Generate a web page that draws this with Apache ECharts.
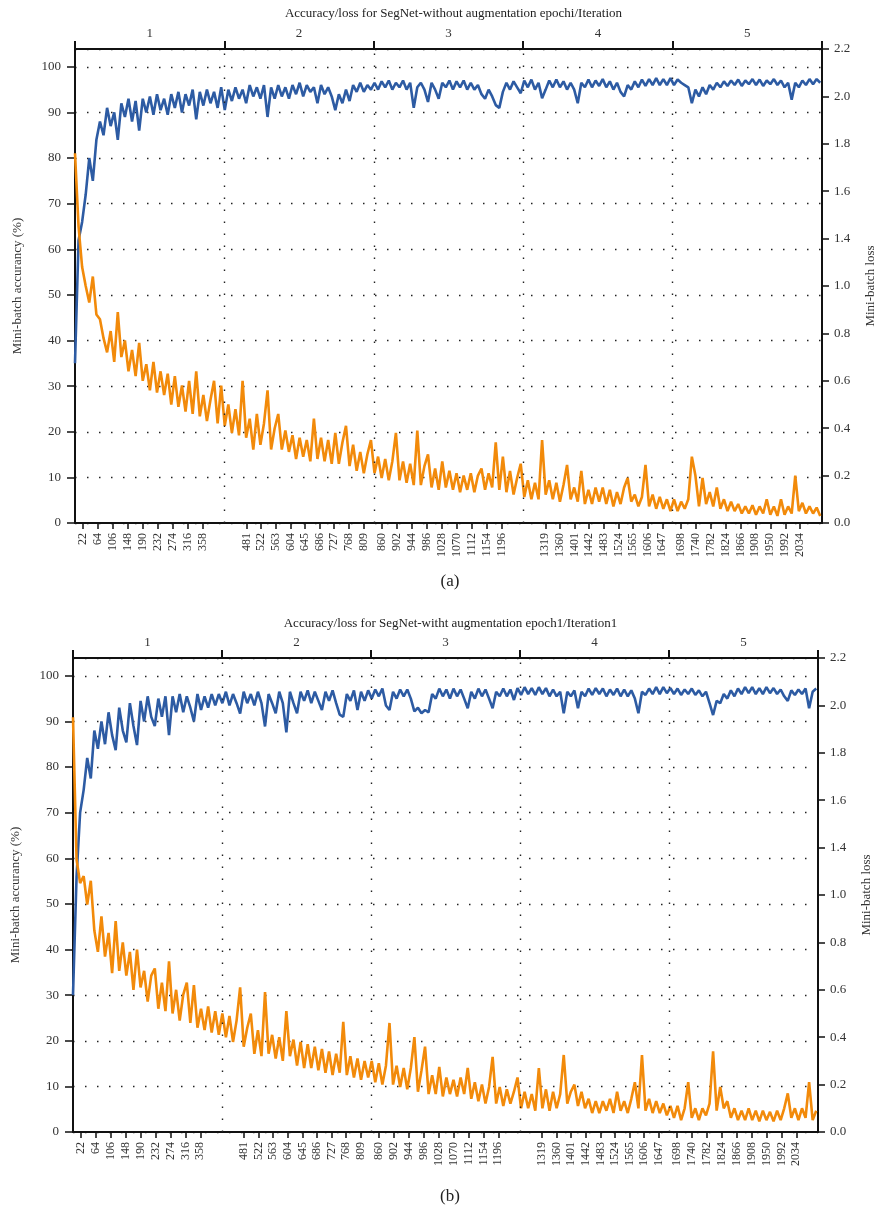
<!DOCTYPE html>
<html>
<head>
<meta charset="utf-8">
<script src="https://cdn.jsdelivr.net/npm/echarts@6/dist/echarts.min.js"></script>
<style>
  html, body { margin: 0; padding: 0; background: #fff; }
  #chart { width: 876px; height: 1211px; }
</style>
</head>
<body>
<div id="chart"></div>
<script>
const iterStep = 10;
const iterTicks = [22, 64, 106, 148, 190, 232, 274, 316, 358, 481, 522, 563, 604, 645, 686, 727, 768, 809,
  860, 902, 944, 986, 1028, 1070, 1112, 1154, 1196, 1319, 1360, 1401, 1442, 1483, 1524, 1565, 1606, 1647,
  1698, 1740, 1782, 1824, 1866, 1908, 1950, 1992, 2034];
const epochEdges = [0, 419, 838, 1257, 1676, 2095];
const epochNames = ['1', '2', '3', '4', '5'];
const lossTickLabels = ['0.0', '0.2', '0.4', '0.6', '0.8', '1.0', '1.4', '1.6', '1.8', '2.0', '2.2'];

// (a) without augmentation
const accA = [
  35, 62, 66, 72, 80, 75, 84, 88, 85, 91,
  87, 90, 84, 92, 89, 93, 88, 92.5, 86, 93,
  90, 93.5, 89.5, 94, 90.5, 93, 89.5, 94, 91, 94.5,
  90, 94, 91.5, 95, 88.5, 94.5, 91.5, 95, 92, 94.5,
  91, 95.5, 90.5, 95, 92.5, 95.5, 93, 95, 92, 96,
  93.5, 95.5, 93, 96, 89, 95.5, 93, 96, 93.5, 95.5,
  93, 96, 94, 96.5, 93.5, 96, 94.5, 95.5, 92, 96,
  94, 95.5, 93.5, 90.5, 94, 92, 95, 92.5, 96, 94.5,
  96.5, 94.5, 96, 95, 96.5, 95, 96.8, 95.5, 97, 95,
  96.5, 95.5, 97, 95, 96.5, 91, 95.5, 96.5, 95, 92.3,
  96.5, 95, 93, 96.5, 95.5, 97, 95, 96.8, 95.5, 97,
  95, 96.5, 95, 96, 94, 93, 95, 93.5, 91.6, 91,
  94.5, 96.5, 95, 96.8, 95.5, 94.2, 97, 95.5, 97.2, 95,
  96.5, 93.1, 95, 97, 95.5, 97.2, 95.5, 96.8, 95, 96.5,
  95, 92, 96.5, 95.5, 97.2, 95.5, 97, 95.8, 97.3, 95.5,
  96.8, 95, 96.5, 94.5, 93.5, 96, 95, 96.8, 95.5, 97.2,
  95.8, 97.3, 96, 97.5, 96, 97.3, 96, 97.5, 96, 97.2,
  96.5, 96, 95.5, 92, 95, 93.5, 95.5, 94, 96, 95,
  96.5, 95.5, 96.8, 95.8, 97, 96, 97.2, 95.8, 97, 96.2,
  97.3, 96, 97.2, 95.8, 97, 96.2, 97.3, 96, 97, 95.5,
  96.5, 92.8, 96.5, 95.5, 97, 96, 97.3, 96.2, 97.3, 96.5
];
const lossA = [
  1.56, 1.25, 1.08, 1.0, 0.93, 1.04, 0.88, 0.86, 0.78, 0.72,
  0.81, 0.68, 0.89, 0.70, 0.77, 0.64, 0.73, 0.62, 0.76, 0.60,
  0.67, 0.56, 0.68, 0.55, 0.64, 0.54, 0.63, 0.50, 0.62, 0.49,
  0.58, 0.47, 0.60, 0.46, 0.64, 0.45, 0.54, 0.43, 0.52, 0.60,
  0.42, 0.58, 0.41, 0.50, 0.38, 0.48, 0.37, 0.60, 0.36, 0.44,
  0.31, 0.46, 0.33, 0.42, 0.56, 0.31, 0.40, 0.46, 0.31, 0.39,
  0.30, 0.37, 0.27, 0.36, 0.28, 0.35, 0.26, 0.44, 0.27, 0.36,
  0.26, 0.35, 0.25, 0.38, 0.25, 0.34, 0.41, 0.24, 0.33, 0.22,
  0.30, 0.21, 0.29, 0.35, 0.21, 0.28, 0.19, 0.27, 0.18, 0.26,
  0.38, 0.18, 0.26, 0.17, 0.25, 0.16, 0.39, 0.16, 0.24, 0.29,
  0.15, 0.23, 0.14, 0.26, 0.15, 0.22, 0.14, 0.21, 0.13, 0.20,
  0.14, 0.21, 0.13, 0.20, 0.23, 0.14, 0.21, 0.15, 0.34, 0.14,
  0.28, 0.13, 0.22, 0.12, 0.19, 0.25, 0.11, 0.18, 0.10, 0.17,
  0.10, 0.35, 0.12, 0.18, 0.10, 0.17, 0.09, 0.16, 0.245, 0.10,
  0.15, 0.09, 0.22, 0.08, 0.14, 0.08, 0.15, 0.09, 0.15, 0.08,
  0.14, 0.07, 0.13, 0.08, 0.15, 0.19, 0.09, 0.12, 0.07, 0.11,
  0.245, 0.07, 0.12, 0.06, 0.11, 0.06, 0.10, 0.05, 0.10, 0.05,
  0.09, 0.06, 0.10, 0.28, 0.20, 0.07, 0.19, 0.08, 0.13, 0.07,
  0.15, 0.06, 0.10, 0.05, 0.09, 0.05, 0.08, 0.04, 0.07, 0.04,
  0.075, 0.035, 0.07, 0.04, 0.10, 0.035, 0.07, 0.03, 0.10, 0.035,
  0.07, 0.04, 0.20, 0.05, 0.085, 0.04, 0.07, 0.04, 0.065, 0.03
];

// (b) with augmentation
const accB = [
  30, 56, 70, 75, 82, 77.5, 88, 84, 90, 85,
  92, 87, 83.7, 93, 88, 85.4, 94, 89, 84.8, 94.5,
  90, 95.5, 91, 89, 95, 91, 95.5, 87, 95.5, 92,
  96, 92, 95.5, 93, 90, 96, 92.5, 95.5, 93, 96,
  93.5, 96, 94, 96.5, 93.5, 96, 94, 91.7, 96.5, 94,
  96, 93.5, 96.5, 94, 88.9, 96, 94, 91.8, 96.5, 94,
  87.6, 96.5, 94, 91.8, 96.5, 94.5, 96.8, 94, 96.5, 94.5,
  92.5, 96.5, 94.5, 96.8, 94, 91.5, 91, 96, 94.5, 96.8,
  92.5, 96.5, 94.5, 96.8, 95, 97, 95.5, 97.2, 93.5, 92.5,
  96.5, 95, 97, 95.5, 97, 95, 92.2, 93, 91.8, 92.5,
  92, 96, 95, 97.2, 95.5, 97, 95, 97.2, 95.5, 97,
  95, 92.9, 96.5, 95, 97.2, 95.5, 97, 95, 92.9, 96.5,
  95.5, 97.2, 95.5, 97, 94.7, 97.3, 95.8, 97.5, 96, 97.3,
  95.8, 97.5, 96, 97.3, 95.5, 97, 95.5, 96.5, 91.8, 96.5,
  95.5, 96.8, 92.9, 96.5, 95.5, 97.2, 95.8, 97.3, 96, 97.2,
  95.5, 97, 95.8, 97.2, 95.5, 97, 95.5, 96.8, 95, 91.8,
  96.5, 95.8, 97.2, 96, 97.5, 96, 97.5, 96.2, 97.3, 96,
  97.2, 95.8, 97, 96, 97.2, 95.8, 96.8, 95.5, 96.5, 94,
  91.4, 94.5, 94, 96, 95, 96.8, 95.5, 97.2, 96, 97.5,
  96.2, 97.5, 96, 97.3, 96, 97.5, 96.2, 97.3, 96, 97,
  95.5, 94.5, 96.8, 95.8, 97, 96, 97.2, 92.9, 96.5, 97.2
];
const lossB = [
  1.75, 1.15, 1.05, 1.08, 0.96, 1.06, 0.85, 0.76, 0.91, 0.74,
  0.84, 0.67, 0.89, 0.68, 0.80, 0.66, 0.76, 0.60, 0.77, 0.61,
  0.68, 0.55, 0.66, 0.69, 0.52, 0.63, 0.51, 0.72, 0.50, 0.60,
  0.47, 0.58, 0.63, 0.46, 0.62, 0.44, 0.52, 0.43, 0.53, 0.42,
  0.51, 0.41, 0.50, 0.40, 0.49, 0.38, 0.47, 0.61, 0.36, 0.44,
  0.50, 0.33, 0.43, 0.32, 0.59, 0.33, 0.41, 0.31, 0.40, 0.30,
  0.51, 0.32, 0.39, 0.28, 0.38, 0.27, 0.37, 0.27, 0.36, 0.26,
  0.35, 0.25, 0.34, 0.24, 0.33, 0.25, 0.465, 0.24, 0.32, 0.23,
  0.31, 0.22, 0.30, 0.23, 0.30, 0.21, 0.29, 0.20, 0.28, 0.46,
  0.20, 0.28, 0.19, 0.27, 0.18, 0.27, 0.40, 0.17, 0.26, 0.36,
  0.16, 0.24, 0.16, 0.275, 0.15, 0.23, 0.16, 0.22, 0.15, 0.23,
  0.16, 0.27, 0.14, 0.21, 0.13, 0.20, 0.12, 0.19, 0.317, 0.12,
  0.19, 0.11, 0.18, 0.12, 0.17, 0.23, 0.10, 0.17, 0.10, 0.16,
  0.09, 0.27, 0.10, 0.18, 0.09, 0.17, 0.10, 0.16, 0.325, 0.12,
  0.17, 0.20, 0.11, 0.17, 0.10, 0.14, 0.08, 0.13, 0.08, 0.13,
  0.09, 0.14, 0.08, 0.17, 0.09, 0.13, 0.08, 0.14, 0.21, 0.10,
  0.325, 0.09, 0.14, 0.08, 0.13, 0.08, 0.12, 0.07, 0.11, 0.06,
  0.11, 0.05, 0.10, 0.21, 0.06, 0.10, 0.05, 0.10, 0.07, 0.12,
  0.34, 0.09, 0.19, 0.10, 0.13, 0.06, 0.10, 0.05, 0.09, 0.05,
  0.10, 0.05, 0.09, 0.045, 0.09, 0.05, 0.085, 0.045, 0.09, 0.05,
  0.10, 0.163, 0.06, 0.10, 0.05, 0.10, 0.06, 0.21, 0.05, 0.09
];

const serif = 'Liberation Serif';
const ink = '#111';
const labelColor = '#333';
const blue = '#2d5ba3';
const orange = '#f28a0a';
const accMax = 103.9;
const dots = [1.5, 10.5];

const toPoints = (arr) => arr.map((v, i) => [i * iterStep, v]);

const panels = [
  { title: 'Accuracy/loss for SegNet-without augmentation epochi/Iteration', tag: '(a)',
    top: 49, left: 75, right: 54, acc: accA, loss: lossA, titleY: 2, tagY: 568 },
  { title: 'Accuracy/loss for SegNet-witht augmentation epoch1/Iteration1', tag: '(b)',
    top: 658, left: 73, right: 58, acc: accB, loss: lossB, titleY: 612, tagY: 1183 }
];

const grid = [], xAxis = [], yAxis = [], series = [], title = [];

panels.forEach((p, k) => {
  grid.push({ left: p.left, right: p.right, top: p.top, height: 474, outerBoundsMode: 'none', containLabel: false });

  title.push({
    text: p.title, left: p.left + (876 - p.left - p.right) / 2, top: p.titleY, textAlign: 'center',
    textStyle: { fontFamily: serif, fontSize: 13, fontWeight: 'normal', color: '#222' }
  });
  title.push({
    text: p.tag, left: 445, top: p.tagY, textAlign: 'center',
    textStyle: { fontFamily: serif, fontSize: 17, fontWeight: 'normal', color: '#222' }
  });

  // bottom iteration axis
  xAxis.push({
    gridIndex: k, type: 'value', min: 0, max: 2095, position: 'bottom',
    axisLine: { onZero: false, lineStyle: { color: ink, width: 2 } },
    axisTick: { customValues: iterTicks, length: 6, lineStyle: { color: ink, width: 1.5 } },
    axisLabel: {
      customValues: iterTicks, formatter: (v) => String(v), rotate: 90, margin: 10,
      fontFamily: serif, fontSize: 12, color: labelColor
    },
    splitLine: { show: false }
  });
  // top epoch axis
  xAxis.push({
    gridIndex: k, type: 'value', min: 0, max: 2095, position: 'top',
    axisLine: { onZero: false, lineStyle: { color: ink, width: 2 } },
    axisTick: { customValues: epochEdges, length: 8, lineStyle: { color: ink, width: 2 } },
    axisLabel: {
      customValues: epochEdges.slice(0, -1).map((e, i) => (e + epochEdges[i + 1]) / 2),
      formatter: (v) => epochNames[Math.floor(v / epochEdges[1])],
      margin: 9, fontFamily: serif, fontSize: 13, color: labelColor
    },
    splitLine: { show: false }
  });

  yAxis.push({
    gridIndex: k, type: 'value', min: 0, max: accMax, interval: 10, position: 'left',
    name: 'Mini-batch accurancy (%)', nameLocation: 'middle', nameGap: 51, nameRotate: 90,
    nameTextStyle: { fontFamily: serif, fontSize: 13, color: labelColor },
    axisLine: { show: true, onZero: false, lineStyle: { color: ink, width: 2 } },
    axisTick: { show: true, length: 8, lineStyle: { color: ink, width: 1.5 } },
    axisLabel: { showMaxLabel: false, margin: 14, fontFamily: serif, fontSize: 13, color: labelColor },
    splitLine: { show: true, lineStyle: { color: '#222', width: 1.4, type: dots } }
  });
  yAxis.push({
    gridIndex: k, type: 'value', min: 0, max: 2.0, interval: 0.2, position: 'right',
    name: 'Mini-batch loss', nameLocation: 'middle', nameGap: 42, nameRotate: 90,
    nameTextStyle: { fontFamily: serif, fontSize: 13, color: labelColor },
    axisLine: { show: true, onZero: false, lineStyle: { color: ink, width: 2 } },
    axisTick: { show: true, length: 7, lineStyle: { color: ink, width: 1.5 } },
    axisLabel: {
      formatter: (v) => lossTickLabels[Math.round(v / 0.2)],
      margin: 12, fontFamily: serif, fontSize: 13, color: labelColor
    },
    splitLine: { show: false }
  });

  series.push({
    type: 'line', name: 'accuracy', xAxisIndex: k * 2, yAxisIndex: k * 2,
    data: toPoints(p.acc), showSymbol: false, z: 3,
    lineStyle: { color: blue, width: 2.6 },
    markLine: {
      silent: true, symbol: 'none', label: { show: false },
      lineStyle: { color: '#222', width: 1.4, type: dots },
      data: epochEdges.slice(1, -1).map((e) => ({ xAxis: e }))
    }
  });
  series.push({
    type: 'line', name: 'loss', xAxisIndex: k * 2, yAxisIndex: k * 2 + 1,
    data: toPoints(p.loss), showSymbol: false, z: 4,
    lineStyle: { color: orange, width: 2.6 }
  });
});

const chart = echarts.init(document.getElementById('chart'));
chart.setOption({
  animation: false,
  backgroundColor: '#fff',
  title, grid, xAxis, yAxis, series
});
</script>
</body>
</html>
